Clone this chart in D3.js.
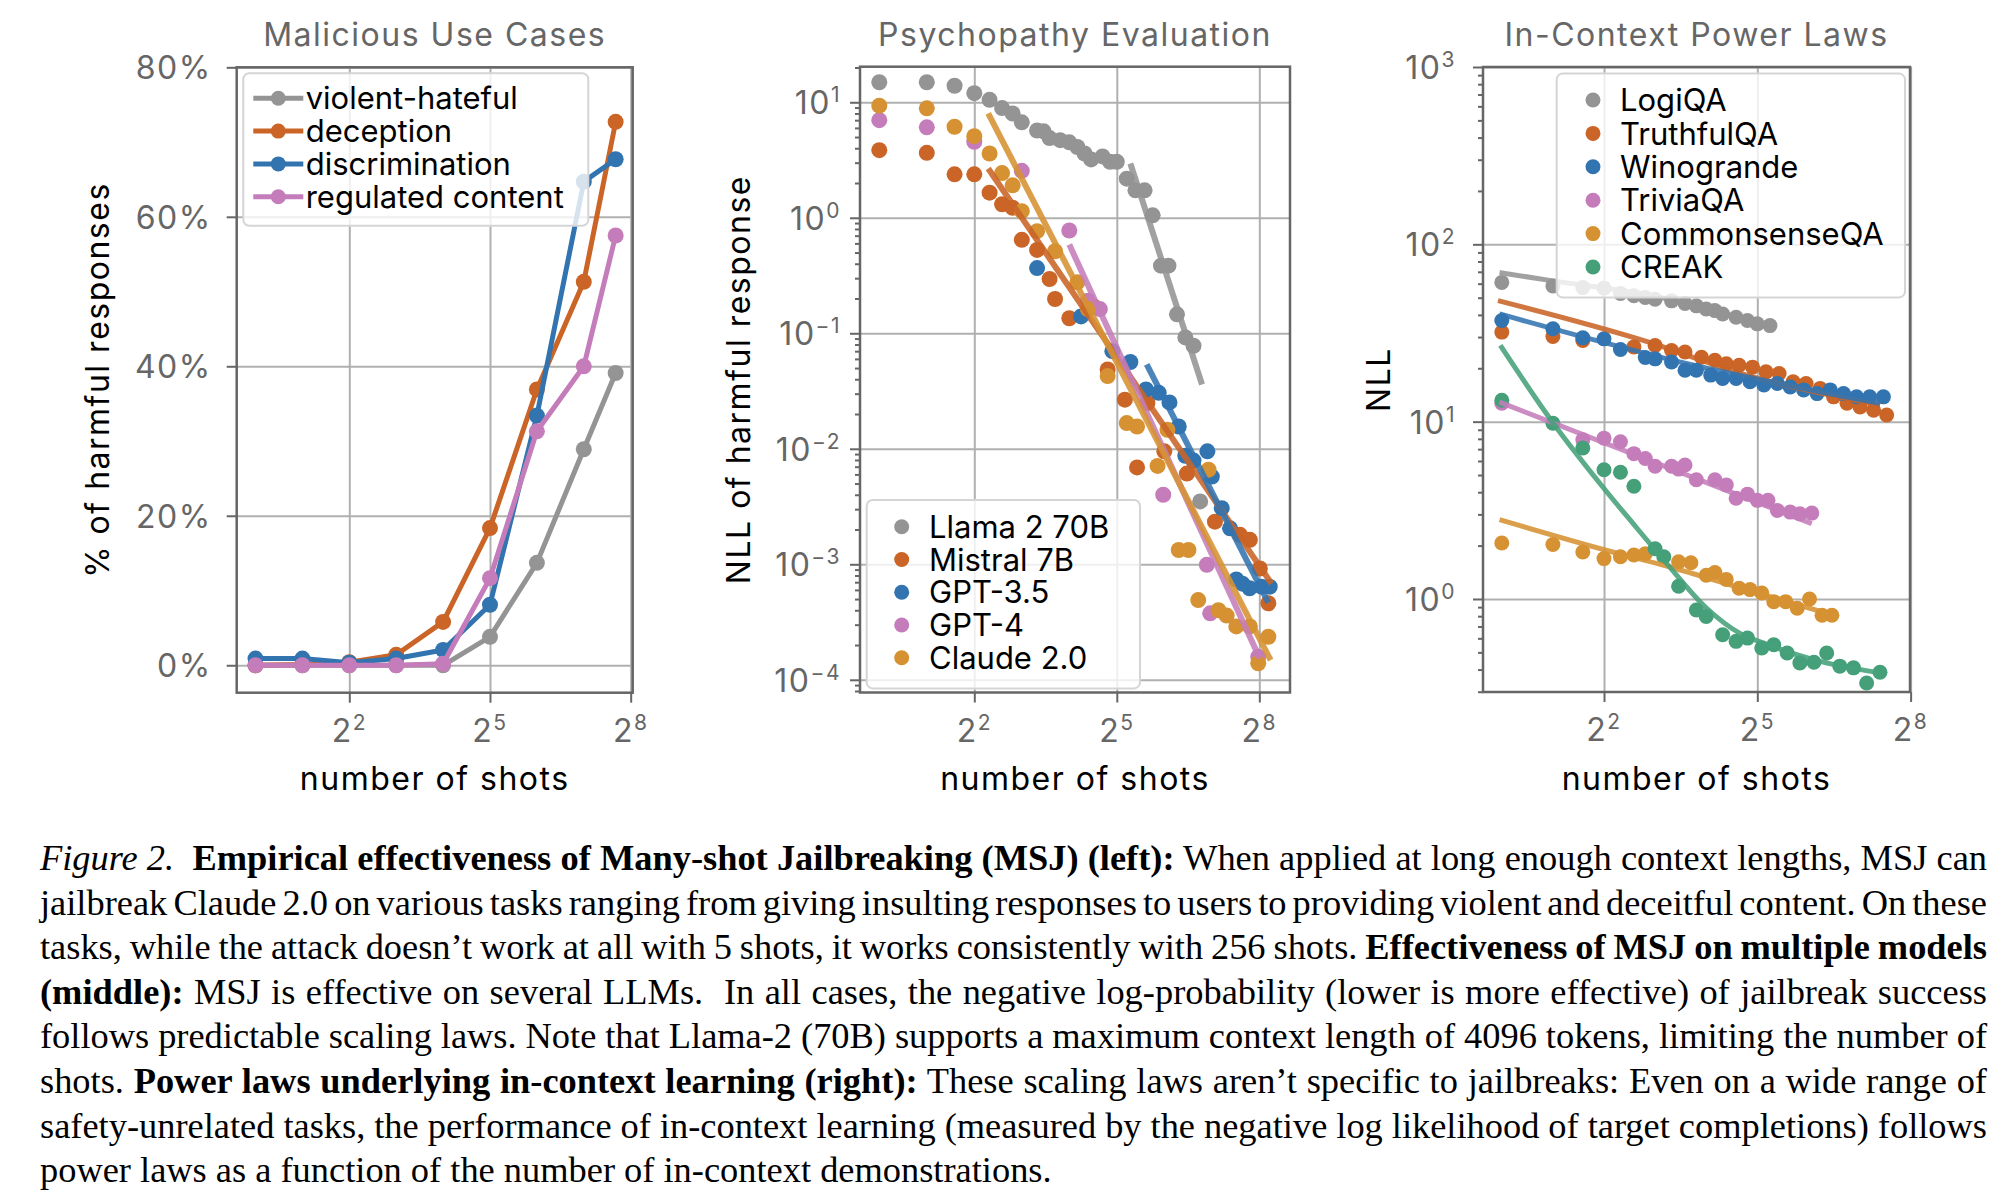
<!DOCTYPE html>
<html>
<head>
<meta charset="utf-8">
<script src="https://cdn.jsdelivr.net/npm/d3@7"></script>
<style>
  body { margin: 0; background: #fff; width: 2012px; height: 1202px; overflow: hidden; position: relative; }
  svg text { font-family: Inter, "DejaVu Sans", sans-serif; }
  .grid line { stroke: #b0b0b0; stroke-width: 2; }
  .tk line { stroke: #666; stroke-width: 2; }
  .tk .domain { display: none; }
  .lbl { font-size: 32px; letter-spacing: 1.5px; }
  #caption { position: absolute; left: 40px; width: 1947px; font-family: "Liberation Serif", serif; color: #000; }
  #caption .ln { white-space: nowrap; text-align: left; }
  #caption .ln.just { text-align: justify; text-align-last: justify; }
</style>
</head>
<body>
<div id="chart"></div>
<div id="caption"></div>
<script>
// ---------- data ----------
const gray = '#949494', orange = '#ca6427', blue = '#3274b0', pink = '#c47dba', gold = '#d69232', green = '#45a07a';

// left: Malicious Use Cases (% harmful responses)
const maliciousShots = [1, 2, 4, 8, 16, 32, 64, 128, 205];
const violentHateful = [0, 0, 0, 0, 0, 3.8, 13.7, 28.9, 39.1];
const deception = [0, 0.1, 0.4, 1.4, 5.8, 18.35, 36.9, 51.3, 72.7];
const discrimination = [0.9, 0.9, 0.35, 0.9, 2.05, 8.1, 33.4, 64.7, 67.7];
const regulatedContent = [0, 0, 0, 0, 0.2, 11.65, 31.3, 40.0, 57.5];
const maliciousNames = ['violent-hateful', 'deception', 'discrimination', 'regulated content'];

// middle: Psychopathy Evaluation (NLL of harmful response)
const llamaShots = [1, 2, 3, 4, 5, 6, 7, 8, 10, 11, 12, 14, 16, 18, 20, 22, 26, 29, 32, 37, 42, 48, 54, 61, 68, 77, 87, 98, 108];
const llamaNLL = [14.9, 14.9, 13.9, 12.0, 10.5, 8.9, 8.0, 6.7, 5.7, 5.6, 4.9, 4.7, 4.5, 4.1, 3.6, 3.2, 3.4, 3.05, 3.05, 2.18, 1.73, 1.73, 1.05, 0.385, 0.385, 0.146, 0.092, 0.078, 0.0035];
const mistralShots = [1, 2, 3, 4, 5, 6, 7, 8, 10, 12, 13, 16, 23, 28, 36, 43, 50, 64, 89, 134, 193, 223, 258, 292];
const mistralNLL = [3.85, 3.65, 2.38, 2.38, 1.65, 1.31, 1.22, 0.644, 0.527, 0.295, 0.198, 0.135, 0.17, 0.0486, 0.0266, 0.0069, 0.0249, 0.0095, 0.0061, 0.00234, 0.0018, 0.00163, 0.00092, 0.00046];
const gpt35Shots = [10, 19, 30, 39, 49, 59, 69, 79, 87, 98, 120, 128, 148, 167, 183, 200, 222, 264, 298];
const gpt35NLL = [0.367, 0.14, 0.07, 0.0564, 0.0326, 0.0305, 0.0252, 0.0156, 0.0087, 0.0079, 0.0095, 0.00575, 0.00306, 0.00205, 0.00074, 0.00068, 0.00062, 0.00064, 0.00064];
const gpt4Shots = [1, 2, 4, 8, 16, 21, 25, 63, 119, 125, 252];
const gpt4NLL = [7.0, 6.07, 4.55, 2.55, 0.776, 0.191, 0.162, 0.004, 0.00099, 0.000376, 0.000158];
const claudeShots = [1, 2, 3, 4, 5, 6, 7, 8, 10, 13, 18, 21, 28, 37, 43, 58, 67, 79, 91, 105, 122, 141, 159, 183, 223, 252, 292];
const claudeNLL = [9.35, 8.87, 6.14, 5.09, 3.6, 2.44, 1.91, 1.14, 0.766, 0.513, 0.276, 0.162, 0.0426, 0.0167, 0.0156, 0.0071, 0.0146, 0.00133, 0.00133, 0.00049, 0.0066, 0.0004, 0.00036, 0.00029, 0.00029, 0.000139, 0.000236];
const llamaFit = [[39, 2.95], [111, 0.036]];
const mistralFit = [[4.9, 2.67], [306, 0.00068]];
const gpt35Fit = [[49.5, 0.0537], [292, 0.000466]];
const gpt4Fit = [[16, 0.586], [258, 0.000153]];
const claudeFit = [[4.9, 8.0], [302, 0.000148]];
const modelNames = ['Llama 2 70B', 'Mistral 7B', 'GPT-3.5', 'GPT-4', 'Claude 2.0'];

// right: In-Context Power Laws (NLL)
const logiqaShots = [1, 2, 3, 4, 5, 6, 7, 8, 10, 12, 14, 16, 18, 20, 24, 28, 32, 38];
const logiqaNLL = [61, 58.3, 57, 56.6, 52.8, 51.3, 50.2, 49, 48, 46.4, 45, 43.2, 42.3, 40.5, 38.8, 37.2, 35.6, 34.8];
const truthfulShots = [1, 2, 3, 6, 8, 10, 12, 15, 18, 21, 25, 30, 36, 43, 52, 62, 75, 90, 108, 129, 155, 185];
const truthfulNLL = [32, 30.2, 28.7, 26.4, 26.9, 25.2, 24.7, 23.1, 22.2, 21.2, 20.8, 20.3, 19.1, 18.7, 16.8, 16.4, 15.4, 13.8, 12.7, 12.1, 11.6, 10.9];
const winoShots = [1, 2, 3, 4, 5, 7, 8, 10, 12, 14, 17, 20, 24, 29, 35, 42, 50, 60, 72, 86, 103, 123, 147, 177];
const winoNLL = [37.2, 33.4, 29.7, 29.3, 25.5, 23, 22.6, 21.7, 19.5, 19.5, 18.3, 17.5, 17.5, 16.8, 16.1, 16.4, 15.7, 15.1, 14.4, 15.1, 14.4, 13.8, 13.8, 13.8];
const triviaShots = [1, 3, 4, 5, 6, 7, 8, 10, 11, 12, 14, 18, 21, 24, 28, 32, 37, 42, 50, 57, 67];
const triviaNLL = [12.7, 7.9, 8.07, 7.7, 6.6, 6.2, 5.6, 5.6, 5.4, 5.7, 4.7, 4.7, 4.4, 3.7, 3.9, 3.6, 3.6, 3.16, 3.09, 3.02, 3.05];
const csqaShots = [1, 2, 3, 4, 5, 6, 7, 11, 13, 16, 18, 21, 25, 29, 34, 40, 47, 55, 65, 77, 88];
const csqaNLL = [2.07, 2.03, 1.84, 1.69, 1.73, 1.77, 1.8, 1.62, 1.6, 1.36, 1.41, 1.29, 1.15, 1.13, 1.08, 0.966, 0.966, 0.887, 1.0, 0.81, 0.81];
const creakShots = [1, 2, 3, 4, 5, 6, 8, 9, 11, 14, 16, 20, 24, 28, 34, 40, 48, 57, 69, 82, 98, 118, 141, 169];
const creakNLL = [13.2, 9.8, 7.1, 5.36, 5.18, 4.32, 1.92, 1.73, 1.18, 0.867, 0.796, 0.628, 0.577, 0.602, 0.529, 0.552, 0.496, 0.436, 0.44, 0.496, 0.418, 0.409, 0.336, 0.386];
const logiqaFit = [[0.97, 69.3], [2, 62.2], [8, 51], [38, 34.5]];
const truthfulFit = [[0.95, 48.1], [6.8, 28.7], [27.7, 18.3], [169, 12.4]];
const winoFit = [[0.97, 40.5], [13.5, 20.8], [169, 12.7]];
const triviaFit = [[0.97, 12.9], [67, 2.66]];
const csqaFit = [[0.97, 2.8], [4.5, 1.84], [9, 1.55], [30, 1.1], [90, 0.81]];
const creakFit = [[0.98, 26.9], [2.01, 9.8], [4, 4.2], [5.94, 2.66], [9.4, 1.58], [16.1, 0.887], [25.3, 0.64], [34.8, 0.564], [68.6, 0.455], [169, 0.383]];
const taskNames = ['LogiQA', 'TruthfulQA', 'Winogrande', 'TriviaQA', 'CommonsenseQA', 'CREAK'];

// ticks
const xTickExps = [2, 5, 8];
const pctTicks = [0, 20, 40, 60, 80];
const nllTickExps = [-4, -3, -2, -1, 0, 1];
const taskTickExps = [0, 1, 2, 3];

const captionLines = [
  '<i>Figure 2.</i>&nbsp; <b>Empirical effectiveness of Many-shot Jailbreaking (MSJ) (left):</b> When applied at long enough context lengths, MSJ can',
  'jailbreak Claude 2.0 on various tasks ranging from giving insulting responses to users to providing violent and deceitful content. On these',
  'tasks, while the attack doesn’t work at all with 5 shots, it works consistently with 256 shots. <b>Effectiveness of MSJ on multiple models</b>',
  '<b>(middle):</b> MSJ is effective on several LLMs.&nbsp; In all cases, the negative log-probability (lower is more effective) of jailbreak success',
  'follows predictable scaling laws. Note that Llama-2 (70B) supports a maximum context length of 4096 tokens, limiting the number of',
  'shots. <b>Power laws underlying in-context learning (right):</b> These scaling laws aren’t specific to jailbreaks: Even on a wide range of',
  'safety-unrelated tasks, the performance of in-context learning (measured by the negative log likelihood of target completions) follows',
  'power laws as a function of the number of in-context demonstrations.'
];

// ---------- drawing ----------
const FS = 31;
const spine = '#666';
const svg = d3.select('#chart').append('svg').attr('width', 2012).attr('height', 820);

const zip = (xs, ys) => xs.map((x, i) => [x, ys[i]]);
// axis helper: ticks only, no text nodes and no domain path
const bare = s => { s.select('.domain').remove(); s.selectAll('.tick text').remove(); };

function minorTicks(lo, hi) {
  const out = [];
  for (let k = Math.floor(lo) - 1; k <= Math.ceil(hi); k++) {
    for (let m = 2; m <= 9; m++) {
      const v = m * Math.pow(10, k);
      if (Math.log10(v) >= lo && Math.log10(v) <= hi) out.push(v);
    }
  }
  return out;
}

function supText(sel, base, sup) {
  sel.append('tspan').text(base);
  sel.append('tspan').attr('font-size', 21).attr('dy', -12).text(sup);
}

function makePanel(p) {
  const { left, right, top, bottom } = p.box;
  const g = svg.append('g');
  const x = d3.scaleLog().base(2).domain([2 ** p.xDom[0], 2 ** p.xDom[1]]).range([left, right]);
  const y = p.logY
    ? d3.scaleLog().domain([10 ** p.yDom[0], 10 ** p.yDom[1]]).range([bottom, top])
    : d3.scaleLinear().domain(p.yDom).range([bottom, top]);
  const xVals = xTickExps.map(e => 2 ** e);

  // gridlines
  g.append('g').attr('class', 'grid').attr('transform', `translate(0,${bottom})`)
    .call(d3.axisBottom(x).tickValues(xVals).tickSize(-(bottom - top)).tickFormat(''))
    .call(bare);
  g.append('g').attr('class', 'grid').attr('transform', `translate(${left},0)`)
    .call(d3.axisLeft(y).tickValues(p.yVals).tickSize(-(right - left)).tickFormat(''))
    .call(bare);

  // title and labels
  g.append('text').attr('class', 'lbl').attr('x', (left + right) / 2).attr('y', 46).attr('text-anchor', 'middle')
    .attr('fill', '#666').text(p.title);
  g.append('text').attr('class', 'lbl').attr('x', (left + right) / 2).attr('y', 790).attr('text-anchor', 'middle')
    .attr('fill', '#000').text('number of shots');
  g.append('text').attr('class', 'lbl').attr('transform', `translate(${p.yLabelX},${(top + bottom) / 2}) rotate(-90)`)
    .attr('text-anchor', 'middle').attr('dy', '0.36em')
    .attr('fill', '#000').text(p.yLabel);

  const clipId = 'clip' + Math.round(left);
  g.append('clipPath').attr('id', clipId).append('rect')
    .attr('x', left).attr('y', top).attr('width', right - left).attr('height', bottom - top);
  const plot = g.append('g').attr('clip-path', `url(#${clipId})`);

  return { g, plot, x, y, p };
}

function finishPanel(P) {
  const { g, x, y, p } = P;
  const { left, right, top, bottom } = p.box;
  g.append('rect').attr('x', left).attr('y', top).attr('width', right - left).attr('height', bottom - top)
    .attr('fill', 'none').attr('stroke', spine).attr('stroke-width', 2.5);

  const xVals = xTickExps.map(e => 2 ** e);
  g.append('g').attr('class', 'tk').attr('transform', `translate(0,${bottom})`)
    .call(d3.axisBottom(x).tickValues(xVals).tickSize(10).tickFormat('')).call(bare);
  g.append('g').attr('class', 'tk').attr('transform', `translate(${left},0)`)
    .call(d3.axisLeft(y).tickValues(p.yVals).tickSize(10).tickFormat('')).call(bare);
  if (p.logY) {
    g.append('g').attr('class', 'tk').attr('transform', `translate(${left},0)`)
      .call(d3.axisLeft(y).tickValues(minorTicks(p.yDom[0], p.yDom[1])).tickSize(5).tickFormat('')).call(bare);
  }

  g.selectAll(null).data(xTickExps).join('text')
    .attr('class', 'lbl').attr('x', d => x(2 ** d)).attr('y', bottom + 49).attr('text-anchor', 'middle')
    .attr('fill', '#666')
    .each(function (d) { supText(d3.select(this), '2', d); });

  g.selectAll(null).data(p.yVals).join('text')
    .attr('class', 'lbl').attr('x', left - p.labelGap).attr('y', d => y(d)).attr('dy', '0.37em').attr('text-anchor', 'end')
    .attr('fill', '#666')
    .each(function (d) {
      const t = d3.select(this);
      if (p.logY) supText(t, '10', String(Math.round(Math.log10(d))).replace('-', '\u2212'));
      else t.text(d + '%');
    });
}

function drawLegend(g, items, o) {
  const h = o.rowY0 - o.y0 + (items.length - 1) * o.step + (o.rowY0 - o.y0) + 4;
  g.append('rect').attr('x', o.x0).attr('y', o.y0).attr('width', o.x1 - o.x0).attr('height', h)
    .attr('rx', 6).attr('fill', '#fff').attr('fill-opacity', 0.8)
    .attr('stroke', '#d5d5d5').attr('stroke-width', 2);
  const row = g.selectAll(null).data(items).join('g')
    .attr('transform', (d, i) => `translate(0,${o.rowY0 + i * o.step})`);
  if (o.withLine) {
    row.append('line').attr('x1', o.markX - 25).attr('x2', o.markX + 25)
      .attr('stroke', d => d.color).attr('stroke-width', 5);
  }
  row.append('circle').attr('cx', o.markX).attr('r', 7.5).attr('fill', d => d.color);
  row.append('text').attr('x', o.textX).attr('dy', '0.36em').attr('font-size', FS).attr('fill', '#000')
    .text(d => d.name);
}

// ---- left panel ----
const P1 = makePanel({
  box: { left: 236.7, right: 632.7, top: 67.3, bottom: 692.7 },
  xDom: [-0.401, 8.043], yDom: [-3.67, 80], logY: false, yVals: pctTicks,
  title: 'Malicious Use Cases', yLabel: '% of harmful responses', yLabelX: 97, labelGap: 25
});
const malSeries = [
  { name: maliciousNames[0], color: gray, values: violentHateful },
  { name: maliciousNames[1], color: orange, values: deception },
  { name: maliciousNames[2], color: blue, values: discrimination },
  { name: maliciousNames[3], color: pink, values: regulatedContent }
];
const line1 = d3.line().x(d => P1.x(d[0])).y(d => P1.y(d[1]));
malSeries.forEach(s => {
  const pts = zip(maliciousShots, s.values);
  P1.plot.append('path').attr('d', line1(pts)).attr('fill', 'none')
    .attr('stroke', s.color).attr('stroke-width', 5).attr('stroke-linejoin', 'round');
  P1.plot.selectAll(null).data(pts).join('circle')
    .attr('cx', d => P1.x(d[0])).attr('cy', d => P1.y(d[1])).attr('r', 8).attr('fill', s.color);
});
finishPanel(P1);
drawLegend(P1.g, malSeries, { x0: 243.3, x1: 588.3, y0: 73.3, rowY0: 98.3, step: 32.8, markX: 278.3, textX: 305.7, withLine: true });

// ---- middle panel ----
const P2 = makePanel({
  box: { left: 860, right: 1290, top: 66.7, bottom: 692.5 },
  xDom: [-0.406, 8.646], yDom: [-4.11, 1.308], logY: true, yVals: nllTickExps.map(e => 10 ** e),
  title: 'Psychopathy Evaluation', yLabel: 'NLL of harmful response', yLabelX: 738, labelGap: 19
});
const modelSeries = [
  { name: modelNames[0], color: gray, pts: zip(llamaShots, llamaNLL), fit: llamaFit },
  { name: modelNames[1], color: orange, pts: zip(mistralShots, mistralNLL), fit: mistralFit },
  { name: modelNames[2], color: blue, pts: zip(gpt35Shots, gpt35NLL), fit: gpt35Fit },
  { name: modelNames[3], color: pink, pts: zip(gpt4Shots, gpt4NLL), fit: gpt4Fit },
  { name: modelNames[4], color: gold, pts: zip(claudeShots, claudeNLL), fit: claudeFit }
];

function scatterWithFits(P, series, r, lw) {
  series.forEach(s => {
    P.plot.selectAll(null).data(s.pts).join('circle')
      .attr('cx', d => P.x(d[0])).attr('cy', d => P.y(d[1])).attr('r', r).attr('fill', s.color);
  });
  const ln = d3.line().x(d => P.x(d[0])).y(d => P.y(d[1])).curve(d3.curveMonotoneX);
  series.forEach(s => {
    P.plot.append('path').attr('d', ln(s.fit)).attr('fill', 'none')
      .attr('stroke', s.color).attr('stroke-opacity', 0.88).attr('stroke-width', lw);
  });
}
scatterWithFits(P2, modelSeries, 8, 6);
finishPanel(P2);
drawLegend(P2.g, modelSeries, { x0: 866.7, x1: 1140, y0: 500, rowY0: 526.7, step: 32.75, markX: 901.7, textX: 929, withLine: false });

// ---- right panel ----
const P3 = makePanel({
  box: { left: 1483, right: 1910, top: 67, bottom: 692 },
  xDom: [-0.368, 7.988], yDom: [-0.5245, 3.0], logY: true, yVals: taskTickExps.map(e => 10 ** e),
  title: 'In-Context Power Laws', yLabel: 'NLL', yLabelX: 1378, labelGap: 27
});
const taskSeries = [
  { name: taskNames[0], color: gray, pts: zip(logiqaShots, logiqaNLL), fit: logiqaFit },
  { name: taskNames[1], color: orange, pts: zip(truthfulShots, truthfulNLL), fit: truthfulFit },
  { name: taskNames[2], color: blue, pts: zip(winoShots, winoNLL), fit: winoFit },
  { name: taskNames[3], color: pink, pts: zip(triviaShots, triviaNLL), fit: triviaFit },
  { name: taskNames[4], color: gold, pts: zip(csqaShots, csqaNLL), fit: csqaFit },
  { name: taskNames[5], color: green, pts: zip(creakShots, creakNLL), fit: creakFit }
];
scatterWithFits(P3, taskSeries, 7.5, 5);
finishPanel(P3);
drawLegend(P3.g, taskSeries, { x0: 1556.7, x1: 1905, y0: 73.6, rowY0: 100, step: 33.4, markX: 1593, textX: 1620, withLine: false });

// ---------- caption ----------
const ctx = document.createElement('canvas').getContext('2d');
ctx.font = '100px "Liberation Serif"';
const capFs = 100 * 1012 / ctx.measureText(captionLines[7]).width;
const capLH = 44.6;
const cap = d3.select('#caption').style('top', '836px')
  .style('font-size', capFs + 'px').style('line-height', capLH + 'px');
cap.selectAll('div').data(captionLines).join('div')
  .attr('class', 'ln')
  .html(d => `<span>${d}</span>`);
// TeX shrinks interword spaces on tight lines; do the same, then justify
cap.selectAll('div').each(function (d, i) {
  if (i === captionLines.length - 1) return;
  const span = this.firstChild;
  const w = span.getBoundingClientRect().width;
  const target = this.clientWidth - 3;
  if (w > target) {
    const n = (span.textContent.match(/[ \u00a0]/g) || []).length;
    d3.select(this).style('word-spacing', ((target - w) / n) + 'px');
  }
  d3.select(this).classed('just', true);
});
</script>
</body>
</html>
